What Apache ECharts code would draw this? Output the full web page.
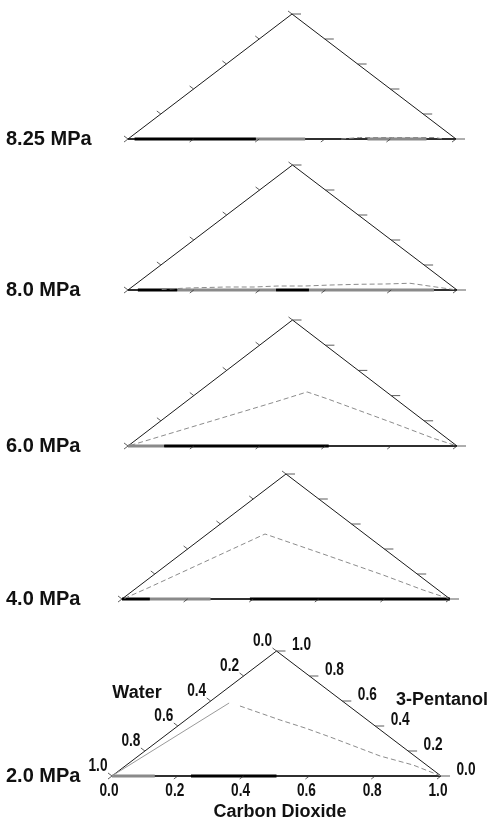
<!DOCTYPE html>
<html><head><meta charset="utf-8">
<script src="https://cdn.jsdelivr.net/npm/echarts@6/dist/echarts.min.js"></script>
<style>html,body{margin:0;padding:0;background:#fff}#c{width:499px;height:819px}</style>
</head><body><div id="c"></div><script>
// ---- data ----
const pressures = ['8.25 MPa', '8.0 MPa', '6.0 MPa', '4.0 MPa', '2.0 MPa'];
const tickValues = [0, 0.2, 0.4, 0.6, 0.8, 1.0];
const tickLabels = ['0.0', '0.2', '0.4', '0.6', '0.8', '1.0'];
const nameBottom = 'Carbon Dioxide';
const nameLeft = 'Water';
const nameRight = '3-Pentanol';
// phase envelopes as [CO2 fraction, 3-pentanol fraction]
const env825 = [[0.65, 0.0], [0.70, 0.012], [0.80, 0.012], [0.93, 0.012], [0.96, 0.0]];
const env80 = [[0.10, 0.005], [0.174, 0.016], [0.286, 0.024], [0.371, 0.024], [0.44, 0.032], [0.522, 0.032], [0.597, 0.04], [0.685, 0.046], [0.757, 0.048], [0.83, 0.054], [0.924, 0.024], [1.0, 0.0]];
const env60 = [[0.005, 0.005], [0.143, 0.183], [0.272, 0.349], [0.33, 0.429], [0.421, 0.373], [0.714, 0.183], [0.895, 0.063], [1.0, 0.0]];
const env40 = [[0.005, 0.005], [0.035, 0.088], [0.116, 0.336], [0.176, 0.52], [0.433, 0.36], [0.70, 0.192], [0.882, 0.072], [1.0, 0.0]];
const env20Left = [[0.0, 0.005], [0.064, 0.584]];
const env20Right = [[0.109, 0.56], [0.287, 0.448], [0.395, 0.384], [0.507, 0.312], [0.735, 0.16], [0.871, 0.088], [1.0, 0.0]];
// binary CO2-water segments on the base: [CO2 from, CO2 to, 0 = black / 1 = gray]
const base825 = [[0.02, 0.39, 0], [0.39, 0.54, 1], [0.73, 0.91, 1]];
const base80 = [[0.03, 0.15, 0], [0.15, 0.45, 1], [0.45, 0.55, 0], [0.55, 0.93, 1]];
const base60 = [[0.0, 0.11, 1], [0.11, 0.61, 0]];
const base40 = [[0.0, 0.085, 0], [0.085, 0.27, 1], [0.39, 1.0, 0]];
const base20 = [[0.0, 0.13, 1], [0.24, 0.50, 0]];

const envs = [[env825], [env80], [env60], [env40], [env20Right]];
const bases = [base825, base80, base60, base40, base20];
const vertices = [[0, 0], [1, 0], [0, 1], [0, 0]]; // [CO2, pentanol]: water, CO2, pentanol corners

// ternary -> cartesian (x along base, y = pentanol fraction)
function toXY(c, p) { return [c + p / 2, p]; }

const grids = [
  {left: 128, top: 14, width: 328, height: 125},
  {left: 128, top: 165, width: 329, height: 125},
  {left: 128, top: 320, width: 329, height: 126},
  {left: 122, top: 474, width: 328, height: 125},
  {left: 112, top: 651, width: 329, height: 125}
];

const series = [];
grids.forEach((g, i) => {
  const common = {xAxisIndex: i, yAxisIndex: i, symbol: 'none', clip: false, silent: true, animation: false};
  // triangle
  series.push(Object.assign({type: 'line', data: vertices.map(v => toXY(v[0], v[1])),
    lineStyle: {color: '#1a1a1a', width: 1}, z: 3}, common));
  // base line a bit heavier
  series.push(Object.assign({type: 'line', data: [toXY(0, 0), toXY(1, 0)],
    lineStyle: {color: '#111', width: 1.6}, z: 3}, common));
  // base binary segments
  bases[i].forEach(s => {
    series.push(Object.assign({type: 'line', data: [toXY(s[0], 0), toXY(s[1], 0)],
      lineStyle: {color: s[2] ? '#8a8a8a' : '#000', width: 3}, z: 4}, common));
  });
  // envelopes
  envs[i].forEach(e => {
    series.push(Object.assign({type: 'line', data: e.map(v => toXY(v[0], v[1])),
      lineStyle: {color: '#8c8c8c', width: 1, type: [5, 3]}, z: 5}, common));
  });
  if (i === 4) {
    series.push(Object.assign({type: 'line', data: env20Left.map(v => toXY(v[0], v[1])),
      lineStyle: {color: '#9a9a9a', width: 1}, z: 5}, common));
  }
  // ticks + labels
  const showLabels = i === 4;
  series.push({
    type: 'custom', xAxisIndex: i, yAxisIndex: i, silent: true, animation: false, clip: false, z: 6,
    data: tickValues.map((v, k) => [v, k]),
    renderItem: function (params, api) {
      const v = api.value(0), k = api.value(1);
      const A = api.coord([0, 0]), B = api.coord([1, 0]), C = api.coord([0.5, 1]);
      const norm = (d) => { const l = Math.hypot(d[0], d[1]); return [d[0] / l, d[1] / l]; };
      const dB = norm([A[0] - C[0], A[1] - C[1]]); // bottom ticks: parallel to left edge, downwards
      const dL = norm([C[0] - B[0], C[1] - B[1]]); // left ticks: parallel to right edge, upwards
      const pb = api.coord(toXY(v, 0));
      const pl = api.coord(toXY(0, 1 - v));
      const pr = api.coord(toXY(1 - v, v));
      const ls = {stroke: '#333', lineWidth: 0.8};
      const ch = [
        {type: 'line', shape: {x1: pb[0], y1: pb[1], x2: pb[0] + dB[0] * 5, y2: pb[1] + dB[1] * 5}, style: ls},
        {type: 'line', shape: {x1: pl[0], y1: pl[1], x2: pl[0] + dL[0] * 5, y2: pl[1] + dL[1] * 5}, style: ls},
        {type: 'line', shape: {x1: pr[0], y1: pr[1], x2: pr[0] + 9, y2: pr[1]}, style: ls}
      ];
      if (showLabels) {
        const t = tickLabels[k];
        const tx = (x, y) => ({type: 'text', x: x, y: y, scaleX: 0.72, scaleY: 1,
          style: {text: t, x: 0, y: 0, align: 'center', verticalAlign: 'middle',
            fontSize: 19, fontWeight: 'bold', fontFamily: '"Liberation Sans", Arial, sans-serif', fill: '#111'}});
        ch.push(tx(pb[0] - 3, pb[1] + 15));
        ch.push(tx(pl[0] - 14, pl[1] - 10));
        ch.push(tx(pr[0] + 25, pr[1] - 6));
      }
      return {type: 'group', children: ch};
    }
  });
});

const labelFont = 'bold 20px "Liberation Sans", Arial, sans-serif';
const nameFont = 'bold 18px "Liberation Sans", Arial, sans-serif';
const graphic = grids.map((g, i) => ({
  type: 'text', left: 6, top: g.top + g.height - 10, silent: true,
  style: {text: pressures[i], font: labelFont, fill: '#111'}
}));
graphic.push({type: 'text', x: 137, y: 693, silent: true, style: {text: nameLeft, font: nameFont, fill: '#111', align: 'center', verticalAlign: 'middle'}});
graphic.push({type: 'text', x: 442, y: 700, silent: true, style: {text: nameRight, font: nameFont, fill: '#111', align: 'center', verticalAlign: 'middle'}});
graphic.push({type: 'text', x: 280, y: 812, silent: true, style: {text: nameBottom, font: nameFont, fill: '#111', align: 'center', verticalAlign: 'middle'}});

const chart = echarts.init(document.getElementById('c'), null, {renderer: 'canvas'});
chart.setOption({
  animation: false,
  backgroundColor: '#fff',
  grid: grids.map(g => Object.assign({containLabel: false}, g)),
  xAxis: grids.map((g, i) => ({type: 'value', gridIndex: i, min: 0, max: 1, show: false})),
  yAxis: grids.map((g, i) => ({type: 'value', gridIndex: i, min: 0, max: 1, show: false})),
  series: series,
  graphic: graphic
});
</script></body></html>
